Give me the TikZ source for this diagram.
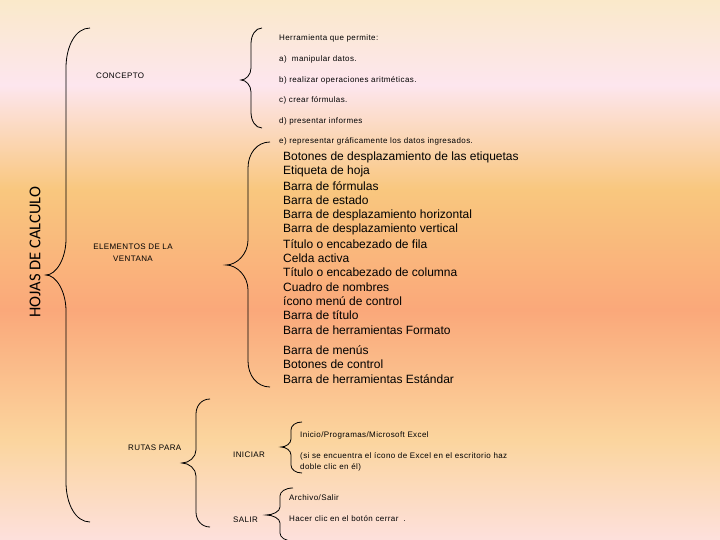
\documentclass[tikz,border=0pt]{standalone}
\usepackage{fontspec}
\setmainfont{Liberation Sans}
\newfontfamily\calib{Carlito}
\newfontfamily\smallf[LetterSpace=5]{Liberation Sans}
\definecolor{bgA}{HTML}{FAE9CA}
\definecolor{bgB}{HTML}{FDE6EE}
\definecolor{bgC}{HTML}{F9C77E}
\definecolor{bgD}{HTML}{FAA87A}
\definecolor{bgE}{HTML}{FBD59E}
\definecolor{bgF}{HTML}{FDE0DC}
\pgfdeclareverticalshading{bgshade}{100bp}{color(0bp)=(bgF); color(25bp)=(bgF); color(34.26bp)=(bgE); color(46.3bp)=(bgD); color(57.41bp)=(bgC); color(67.13bp)=(bgB); color(75bp)=(bgA); color(100bp)=(bgA)}
% #1 end x, #2 top y, #3 bottom y, #4 vertical x, #5 tip x, #6 tip y, #7 end curve, #8 tip curve
\newcommand\bracepath[8]{%
\draw[bracestyle] (#1,#2) .. controls ({#4+0.4*(#1-#4)},#2) and (#4,{#2+0.45*#7}) .. (#4,{#2+#7})
 -- (#4,{#6-#8}) .. controls (#4,{#6-0.45*#8}) and ({#5+0.5*(#4-#5)},#6) .. (#5,#6)
 .. controls ({#5+0.5*(#4-#5)},#6) and (#4,{#6+0.45*#8}) .. (#4,{#6+#8})
 -- (#4,{#3-#7}) .. controls (#4,{#3-0.45*#7}) and ({#4+0.4*(#1-#4)},#3) .. (#1,#3);}
\begin{document}
\begin{tikzpicture}[x=1pt,y=-1pt,
  lbl/.style={anchor=west,inner sep=0pt,font=\smallf\fontsize{8}{9.6}\selectfont},
  clbl/.style={inner sep=0pt,font=\smallf\fontsize{8}{11.5}\selectfont,align=center},
  big/.style={anchor=west,inner sep=0pt,font=\fontsize{12}{14.4}\selectfont},
  bracestyle/.style={draw=black,line width=0.8pt}]
\useasboundingbox (0,0) rectangle (720,540);
\path[shading=bgshade] (0,0) rectangle (720,540);
% title
\node[rotate=90,inner sep=0pt,font=\calib\fontsize{16.5}{18}\selectfont] (title) at (35,252) {HOJAS DE CALCULO};
\bracepath{90}{28}{522}{66}{46}{275}{40}{36}
% concepto
\node[lbl] (concepto) at (96,76) {CONCEPTO};
\bracepath{262}{28}{128}{251}{241}{80}{16}{12}
\node[lbl] (c0) at (279,38) {Herramienta que permite:};
\node[lbl] (c1) at (279,59) {a)\ \ manipular datos.};
\node[lbl] (c2) at (279,80) {b) realizar operaciones aritméticas.};
\node[lbl] (c3) at (279,100) {c) crear fórmulas.};
\node[lbl] (c4) at (279,121) {d) presentar informes};
\node[lbl] (c5) at (279,141.5) {e) representar gráficamente los datos ingresados.};
% elementos
\node[clbl] (elementos) at (133,252.5) {ELEMENTOS DE LA\\VENTANA};
\bracepath{270}{142}{387}{248}{226}{265}{26}{25}
\foreach \yy/\tt [count=\i] in {157.3/Botones de desplazamiento de las etiquetas,171.7/Etiqueta de hoja,185.9/Barra de fórmulas,200.6/Barra de estado,215/Barra de desplazamiento horizontal,229.4/Barra de desplazamiento vertical,243.8/Título o encabezado de fila,258.1/Celda activa,272.5/Título o encabezado de columna,286.9/Cuadro de nombres,301.3/ícono menú de control,315.6/Barra de título,330/Barra de herramientas Formato,350.5/Barra de menús,364.6/Botones de control,379/Barra de herramientas Estándar}
  \node[big] (e\i) at (283,\yy) {\tt};
% rutas
\node[lbl] (rutas) at (128,448) {RUTAS PARA};
\bracepath{210}{399}{527}{196}{182}{463}{15}{13}
\node[lbl] (iniciar) at (233,455) {INICIAR};
\bracepath{302}{422}{473}{291}{281}{447}{8}{8}
\node[lbl] (i1) at (300,435) {Inicio/Programas/Microsoft Excel};
\node[lbl] (i2) at (300,456) {(si se encuentra el ícono de Excel en el escritorio haz};
\node[lbl] (i3) at (300,467) {doble clic en él)};
\node[lbl] (salir) at (233,520) {SALIR};
\bracepath{293}{488}{541}{280}{266}{515}{8}{8}
\node[lbl] (s1) at (289,498) {Archivo/Salir};
\node[lbl] (s2) at (289,519) {Hacer clic en el botón cerrar\ \ .};
\end{tikzpicture}
\end{document}
